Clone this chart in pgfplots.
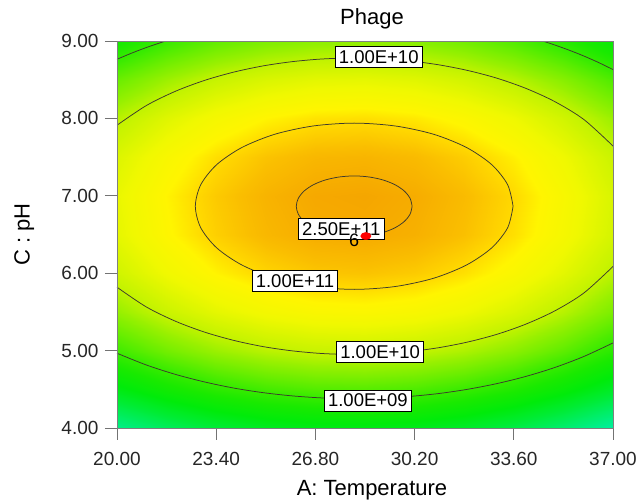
\documentclass[border=0pt]{standalone}
\usepackage{pgfplots}
\pgfplotsset{compat=1.18}
\usepackage{fontspec}
\setmainfont{Liberation Sans}
\pgfplotsset{colormap={phage}{
 rgb255(6.97cm)=(0,240,160)
 rgb255(7.4cm)=(0,238,110)
 rgb255(7.9cm)=(0,236,50)
 rgb255(8.3cm)=(0,235,10)
 rgb255(8.7cm)=(25,234,0)
 rgb255(9.0cm)=(55,235,0)
 rgb255(9.4cm)=(110,238,0)
 rgb255(9.7cm)=(150,240,0)
 rgb255(10.0cm)=(195,243,0)
 rgb255(10.5cm)=(240,248,0)
 rgb255(10.8cm)=(255,245,0)
 rgb255(11.0cm)=(255,215,0)
 rgb255(11.2cm)=(250,190,0)
 rgb255(11.46cm)=(245,165,0)
}}
\tikzset{
 lbl/.style={draw=black, line width=0.8pt, fill=white, inner xsep=3.5pt, inner ysep=1pt, minimum height=21pt, font=\fontsize{18.5}{18.5}\selectfont},
 cline/.style={black!75!olive, line width=0.75pt, smooth},
}
\begin{document}
\begin{tikzpicture}
\path[use as bounding box] (-117pt,-75pt) rectangle (521pt,428pt);
\begin{axis}[
 at={(0,0)}, anchor=south west,
 scale only axis, width=496pt, height=387pt,
 xmin=20, xmax=37, ymin=4, ymax=9,
 xtick={20,23.4,26.8,30.2,33.6,37},
 xticklabels={20.00,23.40,26.80,30.20,33.60,37.00},
 ytick={4,5,6,7,8,9},
 yticklabels={4.00,5.00,6.00,7.00,8.00,9.00},
 tick align=outside, xtick pos=left, ytick pos=left,
 major tick length=12pt,
 tick style={black!55, line width=0.8pt},
 axis line style={black!50, line width=0.8pt},
 tick label style={font=\fontsize{19}{19}\selectfont, text=black!85},
 xticklabel style={yshift=-9pt},
 yticklabel style={xshift=-3pt},
 title={Phage},
 title style={at={(axis description cs:0.5,1)}, anchor=base, yshift=11pt, xshift=7pt, font=\fontsize{22}{22}\selectfont},
 xlabel={A: Temperature},
 xlabel style={at={(axis description cs:0.5,0)}, anchor=base, yshift=-68pt, xshift=7pt, font=\fontsize{22}{22}\selectfont},
 ylabel={C : pH},
 ylabel style={at={(axis description cs:-0.187,0.5)}, anchor=center, font=\fontsize{22}{22}\selectfont},
 colormap name=phage,
 point meta min=6.97, point meta max=11.46,
 axis on top,
 clip=true,
]
\addplot[surf, shader=interp, mesh/cols=11, point meta=explicit] table[meta=L] {
x y L
20 4.0 7.169
21.7 4.0 7.552
23.4 4.0 7.846
25.1 4.0 8.050
26.8 4.0 8.165
28.5 4.0 8.190
30.2 4.0 8.126
31.9 4.0 7.972
33.6 4.0 7.729
35.3 4.0 7.396
37 4.0 6.974

20 4.5 8.210
21.7 4.5 8.593
23.4 4.5 8.887
25.1 4.5 9.091
26.8 4.5 9.206
28.5 4.5 9.231
30.2 4.5 9.167
31.9 4.5 9.013
33.6 4.5 8.770
35.3 4.5 8.437
37 4.5 8.015

20 5.0 9.052
21.7 5.0 9.435
23.4 5.0 9.729
25.1 5.0 9.933
26.8 5.0 10.048
28.5 5.0 10.073
30.2 5.0 10.009
31.9 5.0 9.855
33.6 5.0 9.612
35.3 5.0 9.279
37 5.0 8.857

20 5.5 9.694
21.7 5.5 10.077
23.4 5.5 10.371
25.1 5.5 10.575
26.8 5.5 10.690
28.5 5.5 10.715
30.2 5.5 10.651
31.9 5.5 10.497
33.6 5.5 10.254
35.3 5.5 9.921
37 5.5 9.499

20 6.0 10.138
21.7 6.0 10.521
23.4 6.0 10.815
25.1 6.0 11.019
26.8 6.0 11.134
28.5 6.0 11.159
30.2 6.0 11.095
31.9 6.0 10.941
33.6 6.0 10.698
35.3 6.0 10.365
37 6.0 9.943

20 6.5 10.383
21.7 6.5 10.766
23.4 6.5 11.060
25.1 6.5 11.264
26.8 6.5 11.379
28.5 6.5 11.404
30.2 6.5 11.340
31.9 6.5 11.186
33.6 6.5 10.943
35.3 6.5 10.610
37 6.5 10.188

20 7.0 10.429
21.7 7.0 10.812
23.4 7.0 11.106
25.1 7.0 11.310
26.8 7.0 11.425
28.5 7.0 11.450
30.2 7.0 11.386
31.9 7.0 11.232
33.6 7.0 10.989
35.3 7.0 10.656
37 7.0 10.234

20 7.5 10.276
21.7 7.5 10.659
23.4 7.5 10.953
25.1 7.5 11.157
26.8 7.5 11.272
28.5 7.5 11.297
30.2 7.5 11.233
31.9 7.5 11.079
33.6 7.5 10.836
35.3 7.5 10.503
37 7.5 10.081

20 8.0 9.923
21.7 8.0 10.306
23.4 8.0 10.600
25.1 8.0 10.804
26.8 8.0 10.919
28.5 8.0 10.944
30.2 8.0 10.880
31.9 8.0 10.726
33.6 8.0 10.483
35.3 8.0 10.150
37 8.0 9.728

20 8.5 9.372
21.7 8.5 9.755
23.4 8.5 10.049
25.1 8.5 10.253
26.8 8.5 10.368
28.5 8.5 10.393
30.2 8.5 10.329
31.9 8.5 10.175
33.6 8.5 9.932
35.3 8.5 9.599
37 8.5 9.177

20 9.0 8.622
21.7 9.0 9.005
23.4 9.0 9.299
25.1 9.0 9.503
26.8 9.0 9.618
28.5 9.0 9.643
30.2 9.0 9.579
31.9 9.0 9.425
33.6 9.0 9.182
35.3 9.0 8.849
37 9.0 8.427
};
% 2.50E+11 contour
\addplot[cline] coordinates {
(30.115,6.865) (30.047,6.966) (29.849,7.061) (29.534,7.142) (29.123,7.204) (28.644,7.243)
(28.130,7.257) (27.616,7.243) (27.137,7.204) (26.726,7.142) (26.411,7.061) (26.213,6.966)
(26.145,6.865) (26.213,6.764) (26.411,6.669) (26.726,6.588) (27.137,6.526) (27.616,6.487)
(28.130,6.474) (28.644,6.487) (29.123,6.526) (29.534,6.588) (29.849,6.669) (30.047,6.764)
(30.115,6.865)};
% 1.00E+11 contour
\addplot[cline] coordinates {
(33.575,6.865) (33.389,7.143) (32.845,7.402) (31.980,7.624) (30.853,7.795) (29.539,7.902)
(28.130,7.939) (26.721,7.902) (25.407,7.795) (24.280,7.624) (23.415,7.402) (22.871,7.143)
(22.685,6.865) (22.871,6.587) (23.415,6.328) (24.280,6.106) (25.407,5.935) (26.721,5.828)
(28.130,5.791) (29.539,5.828) (30.853,5.935) (31.980,6.106) (32.845,6.328) (33.389,6.587)
(33.575,6.865)};
% 1.00E+10 contour, upper and lower arcs
\addplot[cline] coordinates {
(20,7.912) (21,8.165) (22,8.350) (23,8.491) (24,8.598) (25,8.678) (26,8.733) (27,8.767) (28,8.780)
(29,8.772) (30,8.744) (31,8.694) (32,8.621) (33,8.522) (34,8.390) (35,8.218) (36,7.986) (37,7.643)};
\addplot[cline] coordinates {
(20,5.819) (21,5.565) (22,5.380) (23,5.239) (24,5.132) (25,5.052) (26,4.997) (27,4.963) (28,4.950)
(29,4.958) (30,4.986) (31,5.036) (32,5.109) (33,5.208) (34,5.340) (35,5.512) (36,5.744) (37,6.087)};
% 1.00E+09 contour
\addplot[cline] coordinates {(20,8.764) (20.5,8.843) (21,8.915) (21.5,8.979) (22,9.037)};
\addplot[cline] coordinates {(34,9.065) (34.5,9.010) (35,8.949) (35.5,8.881) (36,8.806) (36.5,8.723) (37,8.631)};
\addplot[cline] coordinates {
(20,4.966) (21,4.815) (22,4.693) (23,4.595) (24,4.516) (25,4.457) (26,4.415) (27,4.389) (28,4.379)
(29,4.385) (30,4.407) (31,4.444) (32,4.499) (33,4.572) (34,4.665) (35,4.781) (36,4.924) (37,5.099)};
\node[lbl] at (axis cs:28.97,8.79) {1.00E+10};
\node[lbl] at (axis cs:27.69,6.57) {2.50E+11};
\node[lbl] at (axis cs:26.10,5.895) {1.00E+11};
\node[lbl] at (axis cs:29.02,4.977) {1.00E+10};
\node[lbl] at (axis cs:28.60,4.356) {1.00E+09};
\addplot[only marks, mark=*, mark size=4.5pt, mark options={fill=red, draw=red, xscale=1.15, yscale=0.8}] coordinates {(28.53,6.48)};
\node[font=\fontsize{18}{18}\selectfont, inner sep=0pt] at (axis cs:28.13,6.42) {6};
\end{axis}
\end{tikzpicture}
\end{document}
